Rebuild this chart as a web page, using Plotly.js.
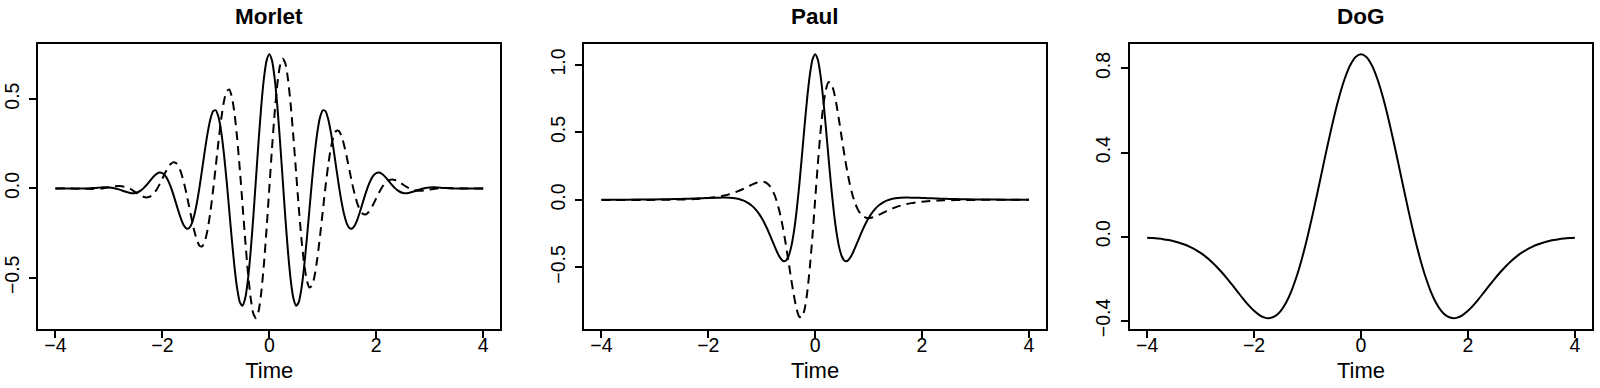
<!DOCTYPE html>
<html>
<head>
<meta charset="utf-8">
<script src="https://cdn.plot.ly/plotly-3.0.1.min.js"></script>
<style>
html,body{margin:0;padding:0;background:#fff;}
#chart{width:1600px;height:388px;}
</style>
</head>
<body>
<div id="chart"></div>
<script>
// ---------- Data ----------
const panelTitles = ["Morlet", "Paul", "DoG"];
const xTickVals = [-4, -2, 0, 2, 4];
const morletYTicks = [-0.5, 0.0, 0.5];
const paulYTicks = [-0.5, 0.0, 0.5, 1.0];
const dogYTicks = [-0.4, 0.0, 0.4, 0.8];

const morletTime = [-4.0,-3.8,-3.6,-3.5,-3.4,-3.3,-3.2,-3.1,-3.0,-2.9,-2.8,-2.7,-2.6,
  -2.5,-2.45,-2.4,-2.35,-2.3,-2.25,-2.2,-2.15,-2.1,-2.05,-2.0,-1.95,-1.9,-1.85,-1.8,-1.75,-1.7,-1.65,-1.6,-1.55,-1.5,
  -1.45,-1.4,-1.35,-1.3,-1.25,-1.2,-1.15,-1.1,-1.05,-1.0,-0.95,-0.9,-0.85,-0.8,-0.75,-0.7,-0.65,-0.6,-0.55,-0.5,
  -0.45,-0.4,-0.35,-0.3,-0.25,-0.2,-0.15,-0.1,-0.05,0,
  0.05,0.1,0.15,0.2,0.25,0.3,0.35,0.4,0.45,0.5,0.55,0.6,0.65,0.7,0.75,0.8,0.85,0.9,0.95,1.0,
  1.05,1.1,1.15,1.2,1.25,1.3,1.35,1.4,1.45,1.5,1.55,1.6,1.65,1.7,1.75,1.8,1.85,1.9,1.95,2.0,
  2.05,2.1,2.15,2.2,2.25,2.3,2.35,2.4,2.45,2.5,
  2.6,2.7,2.8,2.9,3.0,3.1,3.2,3.3,3.4,3.5,3.6,3.8,4.0];

const morletReal = [0.0001,-0.0004,-0.0011,-0.0009,0.0001,0.0019,0.0042,0.0060,0.0055,0.0014,-0.0069,-0.0173,-0.0254,
  -0.0251,-0.0199,-0.0110,0.0018,0.0176,0.0356,0.0538,0.0704,0.0828,0.0886,0.0858,0.0727,0.0486,0.0141,-0.0289,-0.0773,-0.1265,-0.1712,-0.2056,-0.2242,-0.2222,
  -0.1966,-0.1464,-0.0735,0.0174,0.1192,0.2224,0.3163,0.3898,0.4328,0.4374,0.3993,0.3180,0.1978,0.0477,-0.1195,-0.2882,-0.4414,-0.5626,-0.6376,-0.6562,
  -0.6137,-0.5113,-0.3567,-0.1632,0.0515,0.2668,0.4617,0.6168,0.7167,0.7511,
  0.7167,0.6168,0.4617,0.2668,0.0515,-0.1632,-0.3567,-0.5113,-0.6137,-0.6562,-0.6376,-0.5626,-0.4414,-0.2882,-0.1195,0.0477,0.1978,0.3180,0.3993,0.4374,
  0.4328,0.3898,0.3163,0.2224,0.1192,0.0174,-0.0735,-0.1464,-0.1966,-0.2222,-0.2242,-0.2056,-0.1712,-0.1265,-0.0773,-0.0289,0.0141,0.0486,0.0727,0.0858,
  0.0886,0.0828,0.0704,0.0538,0.0356,0.0176,0.0018,-0.0110,-0.0199,-0.0251,
  -0.0254,-0.0173,-0.0069,0.0014,0.0055,0.0060,0.0042,0.0019,0.0001,-0.0009,-0.0011,-0.0004,0.0001];

const morletImag = [0.0002,0.0004,-0.0004,-0.0014,-0.0023,-0.0026,-0.0015,0.0015,0.0063,0.0111,0.0132,0.0093,-0.0028,
  -0.0215,-0.0316,-0.0407,-0.0474,-0.0503,-0.0480,-0.0396,-0.0244,-0.0028,0.0242,0.0546,0.0855,0.1136,0.1350,0.1458,0.1429,0.1239,0.0881,0.0364,-0.0281,-0.1005,
  -0.1740,-0.2409,-0.2929,-0.3222,-0.3226,-0.2902,-0.2243,-0.1278,-0.0073,0.1273,0.2634,0.3872,0.4846,0.5433,0.5542,0.5124,0.4182,0.2776,0.1019,-0.0935,
  -0.2901,-0.4684,-0.6099,-0.6993,-0.7262,-0.6862,-0.5818,-0.4220,-0.2217,0,
  0.2217,0.4220,0.5818,0.6862,0.7262,0.6993,0.6099,0.4684,0.2901,0.0935,-0.1019,-0.2776,-0.4182,-0.5124,-0.5542,-0.5433,-0.4846,-0.3872,-0.2634,-0.1273,
  0.0073,0.1278,0.2243,0.2902,0.3226,0.3222,0.2929,0.2409,0.1740,0.1005,0.0281,-0.0364,-0.0881,-0.1239,-0.1429,-0.1458,-0.1350,-0.1136,-0.0855,-0.0546,
  -0.0242,0.0028,0.0244,0.0396,0.0480,0.0503,0.0474,0.0407,0.0316,0.0215,
  0.0028,-0.0093,-0.0132,-0.0111,-0.0063,-0.0015,0.0015,0.0026,0.0023,0.0014,0.0004,-0.0004,-0.0002];

const paulTime = [-4.0,-3.75,-3.5,-3.25,-3.0,-2.75,-2.5,-2.4,-2.3,-2.2,-2.1,-2.0,-1.9,-1.8,-1.7,-1.6,
  -1.5,-1.45,-1.4,-1.35,-1.3,-1.25,-1.2,-1.15,-1.1,-1.05,-1.0,-0.95,-0.9,-0.85,-0.8,-0.75,-0.7,-0.65,-0.6,-0.55,
  -0.5,-0.45,-0.4,-0.35,-0.3,-0.25,-0.2,-0.15,-0.1,-0.05,0,
  0.05,0.1,0.15,0.2,0.25,0.3,0.35,0.4,0.45,0.5,0.55,0.6,0.65,0.7,0.75,0.8,0.85,0.9,0.95,1.0,
  1.05,1.1,1.15,1.2,1.25,1.3,1.35,1.4,1.45,1.5,
  1.6,1.7,1.8,1.9,2.0,2.1,2.2,2.3,2.4,2.5,2.75,3.0,3.25,3.5,3.75,4.0];

const paulReal = [0.0009,0.0012,0.0017,0.0024,0.0034,0.0050,0.0072,0.0084,0.0097,0.0111,0.0126,0.0142,0.0156,0.0166,0.0168,0.0154,
  0.0113,0.0078,0.0029,-0.0037,-0.0124,-0.0236,-0.0378,-0.0556,-0.0774,-0.1037,-0.1349,-0.1711,-0.2121,-0.2572,-0.3049,-0.3525,-0.3966,-0.4321,-0.4527,-0.4511,
  -0.4198,-0.3519,-0.2425,-0.0908,0.0985,0.3144,0.5392,0.7506,0.9244,1.0390,1.0789,
  1.0390,0.9244,0.7506,0.5392,0.3144,0.0985,-0.0908,-0.2425,-0.3519,-0.4198,-0.4511,-0.4527,-0.4321,-0.3966,-0.3525,-0.3049,-0.2572,-0.2121,-0.1711,-0.1349,
  -0.1037,-0.0774,-0.0556,-0.0378,-0.0236,-0.0124,-0.0037,0.0029,0.0078,0.0113,
  0.0154,0.0168,0.0166,0.0156,0.0142,0.0126,0.0111,0.0097,0.0084,0.0072,0.0050,0.0034,0.0024,0.0017,0.0012,0.0009];

const paulImag = [-0.0003,-0.0003,-0.0003,-0.0002,0.0001,0.0009,0.0025,0.0036,0.0050,0.0070,0.0096,0.0131,0.0178,0.0240,0.0320,0.0424,
  0.0555,0.0632,0.0715,0.0805,0.0901,0.0999,0.1097,0.1189,0.1269,0.1326,0.1349,0.1320,0.1222,0.1030,0.0721,0.0268,-0.0350,-0.1148,-0.2128,-0.3271,
  -0.4530,-0.5824,-0.7039,-0.8031,-0.8642,-0.8723,-0.8161,-0.6915,-0.5030,-0.2651,0,
  0.2651,0.5030,0.6915,0.8161,0.8723,0.8642,0.8031,0.7039,0.5824,0.4530,0.3271,0.2128,0.1148,0.0350,-0.0268,-0.0721,-0.1030,-0.1222,-0.1320,-0.1349,
  -0.1326,-0.1269,-0.1189,-0.1097,-0.0999,-0.0901,-0.0805,-0.0715,-0.0632,-0.0555,
  -0.0424,-0.0320,-0.0240,-0.0178,-0.0131,-0.0096,-0.0070,-0.0050,-0.0036,-0.0025,-0.0009,-0.0001,0.0002,0.0003,0.0003,0.0003];

const dogTime = [-4.0,-3.9,-3.8,-3.7,-3.6,-3.5,-3.4,-3.3,-3.2,-3.1,-3.0,-2.9,-2.8,-2.7,-2.6,-2.5,-2.4,-2.3,-2.2,-2.1,
  -2.0,-1.9,-1.8,-1.7,-1.6,-1.5,-1.4,-1.3,-1.2,-1.1,-1.0,-0.9,-0.8,-0.7,-0.6,-0.5,-0.4,-0.3,-0.2,-0.1,0,
  0.1,0.2,0.3,0.4,0.5,0.6,0.7,0.8,0.9,1.0,1.1,1.2,1.3,1.4,1.5,1.6,1.7,1.8,1.9,2.0,
  2.1,2.2,2.3,2.4,2.5,2.6,2.7,2.8,2.9,3.0,3.1,3.2,3.3,3.4,3.5,3.6,3.7,3.8,3.9,4.0];

const dogValue = [-0.0044,-0.0061,-0.0085,-0.0117,-0.0159,-0.0214,-0.0283,-0.0370,-0.0479,-0.0612,-0.0771,-0.0959,-0.1177,-0.1425,-0.1701,-0.2001,-0.2318,-0.2642,-0.2962,-0.3261,
  -0.3521,-0.3723,-0.3845,-0.3865,-0.3762,-0.3520,-0.3125,-0.2571,-0.1858,-0.0995,0,0.1099,0.2267,0.3462,0.4637,0.5741,0.6725,0.7545,0.8162,0.8544,0.8673,
  0.8544,0.8162,0.7545,0.6725,0.5741,0.4637,0.3462,0.2267,0.1099,0,-0.0995,-0.1858,-0.2571,-0.3125,-0.3520,-0.3762,-0.3865,-0.3845,-0.3723,-0.3521,
  -0.3261,-0.2962,-0.2642,-0.2318,-0.2001,-0.1701,-0.1425,-0.1177,-0.0959,-0.0771,-0.0612,-0.0479,-0.0370,-0.0283,-0.0214,-0.0159,-0.0117,-0.0085,-0.0061,-0.0044];

// ---------- Styling ----------
const FONT = "Liberation Sans, Arial, Helvetica, sans-serif";
const solid = {color: "#000", width: 2, shape: "spline", smoothing: 0.6};
const dashed = {color: "#000", width: 2, shape: "spline", smoothing: 0.6, dash: "9px,6px"};

const traces = [
  {x: morletTime, y: morletReal, mode: "lines", line: solid, xaxis: "x", yaxis: "y"},
  {x: morletTime, y: morletImag, mode: "lines", line: dashed, xaxis: "x", yaxis: "y"},
  {x: paulTime, y: paulReal, mode: "lines", line: solid, xaxis: "x2", yaxis: "y2"},
  {x: paulTime, y: paulImag, mode: "lines", line: dashed, xaxis: "x2", yaxis: "y2"},
  {x: dogTime, y: dogValue, mode: "lines", line: solid, xaxis: "x3", yaxis: "y3"}
];

const W = 1600, H = 388;
const boxTop = 43.7, boxBottom = 328.7;
const panels = [[38.3, 500.3], [584.3, 1046], [1130, 1592]];
const yDom = [1 - boxBottom / H, 1 - boxTop / H];

function xAxis(i) {
  return {
    domain: [panels[i][0] / W, panels[i][1] / W],
    range: [-4.32, 4.32],
    tickvals: xTickVals,
    showline: true, mirror: true, linecolor: "#000", linewidth: 2,
    ticks: "outside", ticklen: 7, tickwidth: 2, tickcolor: "#000",
    showgrid: false, zeroline: false,
    tickfont: {family: FONT, size: 19.5, color: "#000"},
    ticklabelstandoff: -9,
    title: {text: "Time", font: {family: FONT, size: 22, color: "#000"}, standoff: 8},
    anchor: i === 0 ? "y" : "y" + (i + 1),
    fixedrange: true
  };
}
function yAxis(i, ticks, range) {
  return {
    domain: yDom,
    range: range,
    tickvals: ticks,
    tickformat: ".1f",
    tickangle: -90,
    showline: true, mirror: true, linecolor: "#000", linewidth: 2,
    ticks: "outside", ticklen: 7, tickwidth: 2, tickcolor: "#000",
    showgrid: false, zeroline: false,
    tickfont: {family: FONT, size: 19.5, color: "#000"},
    ticklabelstandoff: 3,
    anchor: i === 0 ? "x" : "x" + (i + 1),
    fixedrange: true
  };
}

const annotations = panelTitles.map((t, i) => ({
  text: "<b>" + t + "</b>",
  xref: "paper", yref: "paper",
  x: (panels[i][0] + panels[i][1]) / 2 / W,
  y: 1 - 17 / H,
  xanchor: "center", yanchor: "middle",
  showarrow: false,
  font: {family: FONT, size: 22.5, color: "#000"}
}));

const layout = {
  width: W, height: H,
  margin: {l: 0, r: 0, t: 0, b: 0},
  paper_bgcolor: "#fff", plot_bgcolor: "#fff",
  showlegend: false,
  hovermode: false,
  xaxis: xAxis(0), xaxis2: xAxis(1), xaxis3: xAxis(2),
  yaxis: yAxis(0, morletYTicks, [-0.785, 0.810]),
  yaxis2: yAxis(1, paulYTicks, [-0.9545, 1.1571]),
  yaxis3: yAxis(2, dogYTicks, [-0.4372, 0.9175]),
  annotations: annotations
};

Plotly.newPlot("chart", traces, layout, {staticPlot: true, displayModeBar: false});
</script>
</body>
</html>
